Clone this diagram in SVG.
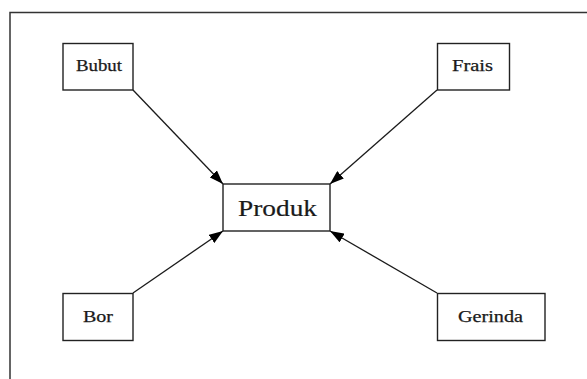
<svg xmlns="http://www.w3.org/2000/svg" width="587" height="379" viewBox="0 0 587 379">
  <style>
    .box { fill: #ffffff; stroke: #222222; stroke-width: 1.4; }
    .lbl { font-family: "Liberation Serif", "Times New Roman", serif; font-size: 16px; fill: #1a1a1a; text-anchor: middle; stroke: #1a1a1a; stroke-width: 0.25; }
    .big { font-size: 24px; stroke-width: 0.2; }
    .edge { stroke: #1a1a1a; stroke-width: 1.3; fill: none; marker-end: url(#head); }
    .frame { stroke: #333333; stroke-width: 1.5; fill: none; }
  </style>
  <defs>
    <marker id="head" viewBox="0 0 14 10" refX="14" refY="5" markerWidth="14" markerHeight="10" markerUnits="userSpaceOnUse" orient="auto">
      <path d="M0,0 L14,5 L0,10 Z" fill="#000000"/>
    </marker>
  </defs>

  <!-- page frame -->
  <path class="frame" d="M10,379 L10,12.5 L587,12.5"/>

  <!-- connectors -->
  <g id="connectors">
    <line class="edge" x1="133" y1="90" x2="223" y2="184"/>
    <line class="edge" x1="437" y1="90" x2="330" y2="184"/>
    <line class="edge" x1="133" y1="293" x2="223" y2="231"/>
    <line class="edge" x1="437" y1="293" x2="330" y2="231"/>
  </g>

  <g id="bubut">
    <rect class="box" x="63" y="43.5" width="70" height="46.5"/>
    <text class="lbl" x="99" y="71" textLength="46" lengthAdjust="spacingAndGlyphs">Bubut</text>
  </g>
  <g id="frais">
    <rect class="box" x="437.5" y="43.5" width="72" height="46.5"/>
    <text class="lbl" x="472.5" y="71" textLength="41" lengthAdjust="spacingAndGlyphs">Frais</text>
  </g>
  <g id="produk">
    <rect class="box" x="223" y="184" width="107" height="47"/>
    <text class="lbl big" x="277.5" y="216" textLength="79" lengthAdjust="spacingAndGlyphs">Produk</text>
  </g>
  <g id="bor">
    <rect class="box" x="63" y="293.5" width="70" height="47"/>
    <text class="lbl" x="98" y="322" textLength="30" lengthAdjust="spacingAndGlyphs">Bor</text>
  </g>
  <g id="gerinda">
    <rect class="box" x="437.5" y="293.5" width="107.5" height="47"/>
    <text class="lbl" x="490.5" y="322" textLength="65" lengthAdjust="spacingAndGlyphs">Gerinda</text>
  </g>
</svg>
